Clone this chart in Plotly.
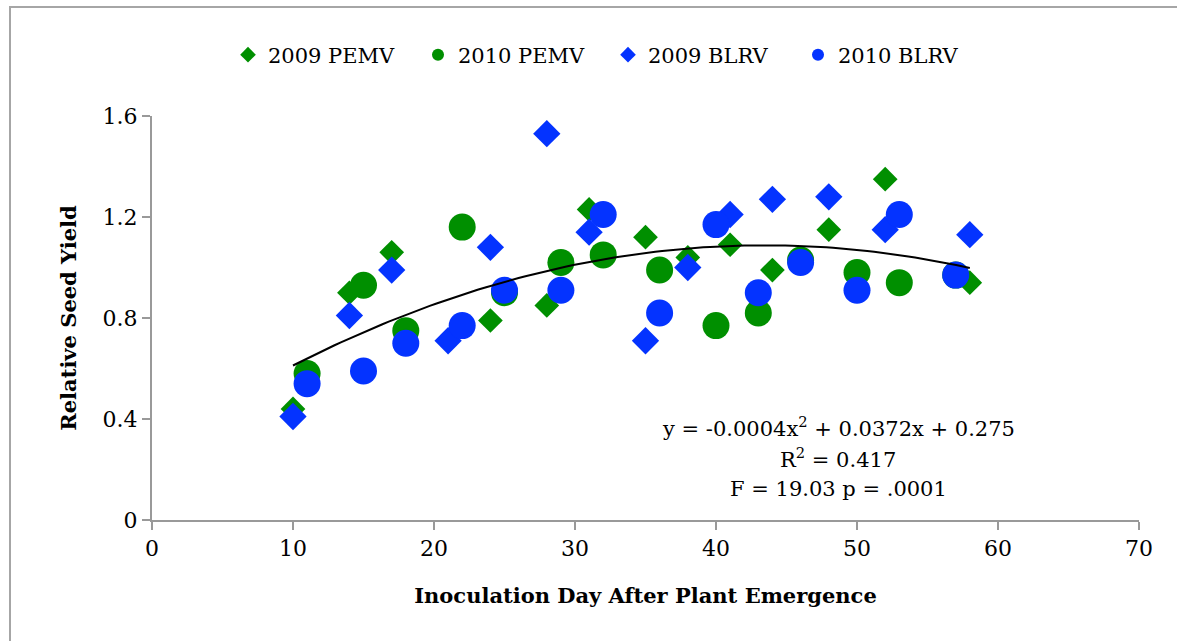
import numpy as np
import plotly.graph_objects as go

# ---- data ----
pemv09_x = [10, 14, 17, 24, 28, 31, 35, 38, 41, 44, 48, 52, 58]
pemv09_y = [0.44, 0.90, 1.06, 0.79, 0.85, 1.23, 1.12, 1.04, 1.09, 0.99, 1.15, 1.35, 0.94]

pemv10_x = [11, 15, 18, 22, 25, 29, 32, 36, 40, 43, 46, 50, 53, 57]
pemv10_y = [0.58, 0.93, 0.75, 1.16, 0.90, 1.02, 1.05, 0.99, 0.77, 0.82, 1.03, 0.98, 0.94, 0.97]

blrv09_x = [10, 14, 17, 21, 24, 28, 31, 35, 38, 41, 44, 48, 52, 58]
blrv09_y = [0.41, 0.81, 0.99, 0.71, 1.08, 1.53, 1.14, 0.71, 1.00, 1.21, 1.27, 1.28, 1.15, 1.13]

blrv10_x = [11, 15, 18, 22, 25, 29, 32, 36, 40, 43, 46, 50, 53, 57]
blrv10_y = [0.54, 0.59, 0.70, 0.77, 0.91, 0.91, 1.21, 0.82, 1.17, 0.90, 1.02, 0.91, 1.21, 0.97]

x_ticks = [0, 10, 20, 30, 40, 50, 60, 70]
y_ticks = [0, 0.4, 0.8, 1.2, 1.6]
y_tick_labels = ["0", "0.4", "0.8", "1.2", "1.6"]

eq_lines = ["y = -0.0004x<sup>2</sup> + 0.0372x + 0.275",
            "R<sup>2</sup> = 0.417",
            "F = 19.03 p = .0001"]

GREEN = "rgb(0,143,0)"
BLUE = "rgb(4,51,255)"
FONT = "DejaVu Serif"

# quadratic trendline fitted to all points (as the spreadsheet trendline)
all_x = np.array(pemv09_x + pemv10_x + blrv09_x + blrv10_x, dtype=float)
all_y = np.array(pemv09_y + pemv10_y + blrv09_y + blrv10_y, dtype=float)
coef = np.polyfit(all_x, all_y, 2)
tx = np.linspace(all_x.min(), all_x.max(), 100)
ty = np.polyval(coef, tx)

fig = go.Figure()
fig.add_trace(go.Scatter(x=pemv09_x, y=pemv09_y, mode="markers", name="2009 PEMV",
                         marker=dict(symbol="diamond", size=19, color=GREEN, line=dict(width=0))))
fig.add_trace(go.Scatter(x=pemv10_x, y=pemv10_y, mode="markers", name="2010 PEMV",
                         marker=dict(symbol="circle", size=27, color=GREEN, line=dict(width=0))))
fig.add_trace(go.Scatter(x=blrv09_x, y=blrv09_y, mode="markers", name="2009 BLRV",
                         marker=dict(symbol="diamond", size=21, color=BLUE, line=dict(width=0))))
fig.add_trace(go.Scatter(x=blrv10_x, y=blrv10_y, mode="markers", name="2010 BLRV",
                         marker=dict(symbol="circle", size=27, color=BLUE, line=dict(width=0))))
fig.add_trace(go.Scatter(x=tx, y=ty, mode="lines", showlegend=False,
                         line=dict(color="black", width=2)))

# equation / statistics text, one line per annotation
for line_text, py in zip(eq_lines, [427, 458, 489]):
    fig.add_annotation(xref="paper", yref="paper", x=(838 - 152) / 987, y=(520 - py) / 404,
                       text=line_text, showarrow=False, align="center",
                       xanchor="center", yanchor="middle",
                       font=dict(family=FONT, size=21, color="black"))

# outer chart border
fig.add_shape(type="rect", xref="paper", yref="paper",
              x0=(10 - 152) / 987, x1=1.2, y0=-0.5, y1=(520 - 7) / 404,
              line=dict(color="#a6a6a6", width=2), layer="below")

axis_common = dict(showgrid=False, zeroline=False, showline=True, linecolor="#999999",
                   linewidth=2, ticks="outside", tickcolor="#999999", ticklen=8, tickwidth=2,
                   tickfont=dict(family=FONT, size=22, color="black"))

fig.update_xaxes(range=[0, 70], tickvals=x_ticks, **axis_common,
                 title=dict(text="<b>Inoculation Day After Plant Emergence</b>",
                            font=dict(family=FONT, size=21, color="black"), standoff=28))
fig.update_yaxes(range=[0, 1.6], tickvals=y_ticks, ticktext=y_tick_labels, **axis_common,
                 title=dict(text="<b>Relative Seed Yield</b>",
                            font=dict(family=FONT, size=21, color="black"), standoff=20))

fig.update_layout(
    width=1177, height=641,
    margin=dict(l=152, r=38, t=116, b=121),
    paper_bgcolor="white", plot_bgcolor="white",
    showlegend=True,
    legend=dict(orientation="h", x=(228 - 152) / 987, xanchor="left",
                y=(520 - 55) / 404, yanchor="middle",
                font=dict(family=FONT, size=21, color="black"),
                entrywidth=145, entrywidthmode="pixels", itemsizing="constant"),
)

fig.write_html("out.html")
